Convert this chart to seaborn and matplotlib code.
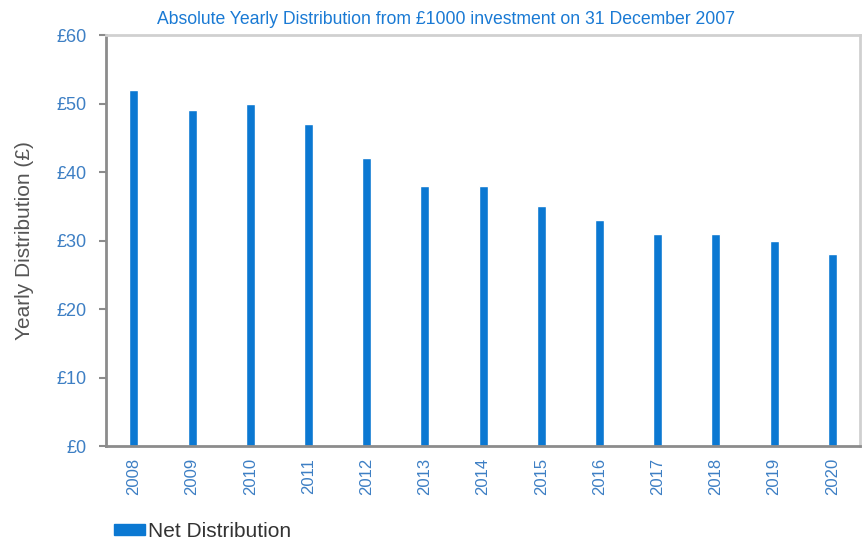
import pandas as pd
import seaborn as sns
import matplotlib.pyplot as plt
from matplotlib.patches import Patch

years = ['2008', '2009', '2010', '2011', '2012', '2013', '2014',
         '2015', '2016', '2017', '2018', '2019', '2020']
net_distribution = [52, 49, 50, 47, 42, 38, 38, 35, 33, 31, 31, 30, 28]
y_ticks = [0, 10, 20, 30, 40, 50, 60]
y_tick_labels = ['£0', '£10', '£20', '£30', '£40', '£50', '£60']

bar_color = '#0b78d2'
label_blue = '#3d7fc4'


def main():
    df = pd.DataFrame({'Year': years, 'Distribution': net_distribution})

    sns.set_style('white')
    plt.rcParams['font.family'] = ['Liberation Sans', 'DejaVu Sans']

    fig = plt.figure(figsize=(8.68, 5.41), dpi=100)
    ax = fig.add_axes([0.122, 0.1756, 0.869, 0.7594])

    sns.barplot(data=df, x='Year', y='Distribution', color=bar_color,
                width=0.155, saturation=1, ax=ax)

    ax.set_ylim(0, 60)
    ax.set_xlim(-0.48, 12.48)
    ax.set_yticks(y_ticks)
    ax.set_yticklabels(y_tick_labels, color=label_blue, fontsize=13)
    ax.set_xticks(range(len(years)))
    ax.set_xticklabels(years, rotation=90, color=label_blue, fontsize=12)
    ax.tick_params(axis='y', left=True, length=5, width=1.5, color='#8c8c8c', pad=9)
    ax.tick_params(axis='x', bottom=False, pad=5)

    ax.set_xlabel('')
    ax.set_ylabel('Yearly Distribution (£)', fontsize=15, color='#555555', labelpad=16)
    title = ax.set_title('Absolute Yearly Distribution from £1000 investment on 31 December 2007',
                         fontsize=12.7, color='#1a7ad4', pad=8)
    title.set_x(0.451)

    ax.spines['left'].set_color('#8c8c8c')
    ax.spines['left'].set_linewidth(2)
    ax.spines['bottom'].set_color('#8c8c8c')
    ax.spines['bottom'].set_linewidth(2)
    ax.spines['top'].set_color('#d0d0d0')
    ax.spines['top'].set_linewidth(2)
    ax.spines['right'].set_color('#d0d0d0')
    ax.spines['right'].set_linewidth(2)

    handle = Patch(color=bar_color, label='Net Distribution')
    fig.legend(handles=[handle], loc='lower left', bbox_to_anchor=(0.11, -0.035),
               frameon=False, fontsize=15, handlelength=1.5, handleheight=0.45,
               handletextpad=0.1, labelcolor='#333333')

    fig.savefig('out.png', dpi=100)


if __name__ == '__main__':
    main()
